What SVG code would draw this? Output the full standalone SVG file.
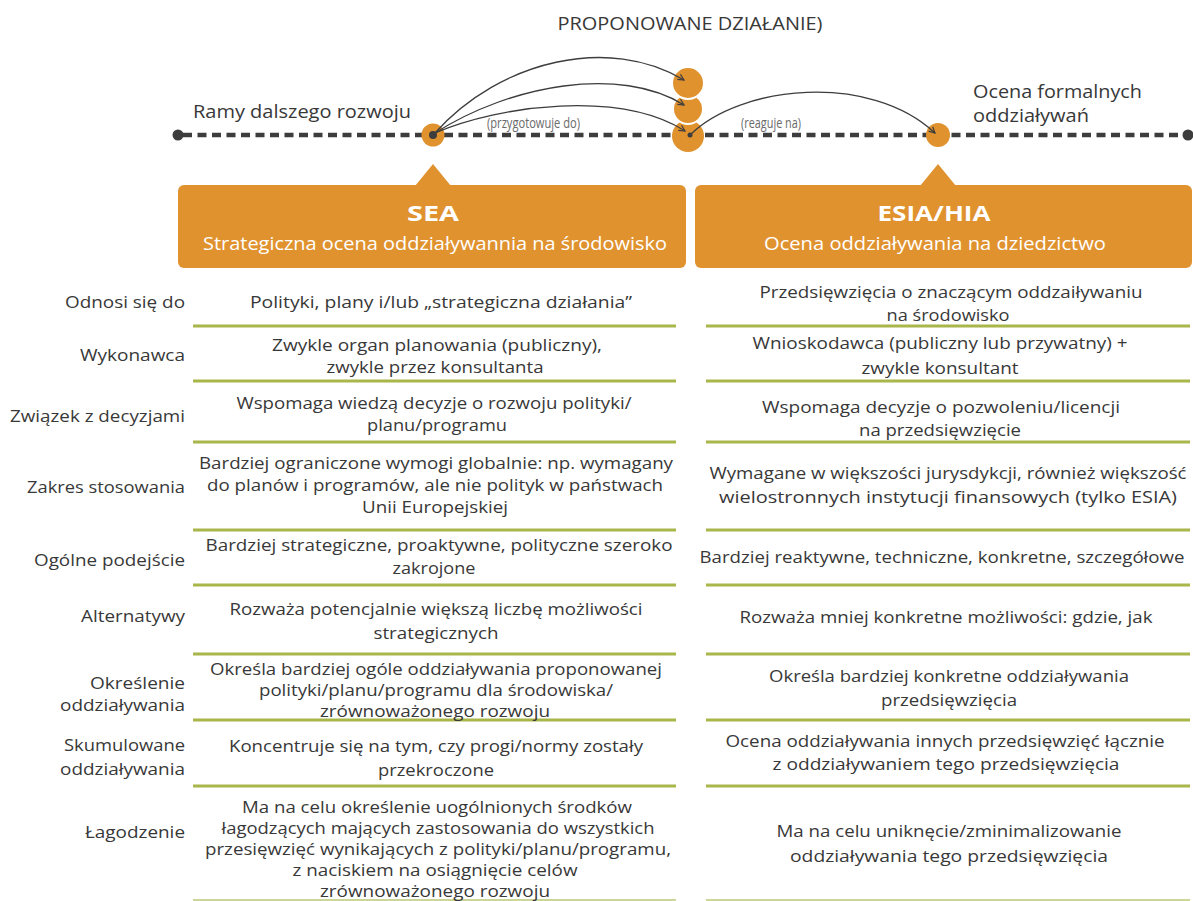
<svg xmlns="http://www.w3.org/2000/svg" width="1193" height="901" viewBox="0 0 1193 901">
<defs>
<style>
text{font-family:"Open Sans","Liberation Sans",sans-serif;fill:#383838}
.t{font-size:17px}
.c{text-anchor:middle}
.e{text-anchor:end}
.top{font-size:19px}
.small{font-size:14px;fill:#6a6a6a}
.hb{font-size:21px;font-weight:700;fill:#fff;text-anchor:middle}
.hs{font-size:17.5px;fill:#fff;text-anchor:middle}
.box{fill:#e0922f}
.orange{fill:#e0922f}
.sep{stroke:#a8b64a;stroke-width:3}
.sepl{stroke:#cdd699;stroke-width:2}
.arc{fill:none;stroke:#3d3d3d;stroke-width:1.3;marker-end:url(#ah)}
</style>
<marker id="ah" viewBox="0 0 8 8" refX="7" refY="4" markerWidth="8" markerHeight="8" markerUnits="userSpaceOnUse" orient="auto">
<path d="M1,1 L7,4 L1,7" fill="none" stroke="#3d3d3d" stroke-width="1.2"/>
</marker>
</defs>
<rect width="1193" height="901" fill="#fff"/>

<g id="timeline">
<line x1="183" y1="135" x2="1183" y2="135" stroke="#3d3d3d" stroke-width="4.5" stroke-dasharray="9 5.5"/>
<circle cx="178" cy="135" r="5.5" fill="#3d3d3d"/>
<circle cx="1188" cy="135" r="5.5" fill="#3d3d3d"/>
</g>

<text class="top c" x="690" y="30" textLength="265" lengthAdjust="spacingAndGlyphs">PROPONOWANE DZIAŁANIE)</text>
<text class="top" x="193" y="118" textLength="218" lengthAdjust="spacingAndGlyphs">Ramy dalszego rozwoju</text>
<text class="top" x="973" y="98" textLength="169" lengthAdjust="spacingAndGlyphs">Ocena formalnych</text>
<text class="top" x="973" y="122" textLength="116" lengthAdjust="spacingAndGlyphs">oddziaływań</text>

<g id="node-sea-point">
<circle class="orange" cx="433" cy="135" r="11.5"/>
<circle cx="433" cy="135" r="4" fill="#3d3d3d"/>
</g>
<g id="node-proposed">
<circle class="orange" cx="688" cy="136" r="16"/>
<circle class="orange" cx="688" cy="109" r="15" stroke="#fff" stroke-width="2"/>
<circle class="orange" cx="688" cy="83" r="16" stroke="#fff" stroke-width="2"/>
<circle cx="690" cy="135" r="2.5" fill="#3d3d3d"/>
</g>
<g id="node-esia-point">
<circle class="orange" cx="938" cy="135" r="12"/>
</g>

<g id="connectors">
<path class="arc" d="M435,133 C500,60 610,35 684,80"/>
<path class="arc" d="M435,133 C510,85 620,65 684,105"/>
<path class="arc" d="M435,133 C500,105 620,90 685,131"/>
<path class="arc" d="M690,135 C740,85 870,72 935,133"/>
</g>
<text class="small" x="487" y="128" textLength="93" lengthAdjust="spacingAndGlyphs">(przygotowuje do)</text>
<text class="small" x="741" y="128" textLength="60" lengthAdjust="spacingAndGlyphs">(reaguje na)</text>

<g id="node-sea">
<polygon class="box" points="415,186 433,164 451,186"/>
<rect class="box" x="178" y="185" width="508" height="83" rx="6"/>
<text class="hb" x="433" y="221" textLength="52" lengthAdjust="spacingAndGlyphs">SEA</text>
<text class="hs" x="435" y="250" textLength="464" lengthAdjust="spacingAndGlyphs">Strategiczna ocena oddziaływannia na środowisko</text>
</g>
<g id="node-esia">
<polygon class="box" points="920,186 938,164 956,186"/>
<rect class="box" x="695" y="185" width="497" height="83" rx="6"/>
<text class="hb" x="934" y="221" textLength="113" lengthAdjust="spacingAndGlyphs">ESIA/HIA</text>
<text class="hs" x="935" y="250" textLength="342" lengthAdjust="spacingAndGlyphs">Ocena oddziaływania na dziedzictwo</text>
</g>

<g id="separators">
<line class="sep" x1="193" y1="326" x2="676" y2="326"/><line class="sep" x1="706" y1="326" x2="1190" y2="326"/>
<line class="sep" x1="193" y1="381" x2="676" y2="381"/><line class="sep" x1="706" y1="381" x2="1190" y2="381"/>
<line class="sep" x1="193" y1="442" x2="676" y2="442"/><line class="sep" x1="706" y1="442" x2="1190" y2="442"/>
<line class="sep" x1="193" y1="530" x2="676" y2="530"/><line class="sep" x1="706" y1="530" x2="1190" y2="530"/>
<line class="sep" x1="193" y1="585" x2="676" y2="585"/><line class="sep" x1="706" y1="585" x2="1190" y2="585"/>
<line class="sep" x1="193" y1="654" x2="676" y2="654"/><line class="sep" x1="706" y1="654" x2="1190" y2="654"/>
<line class="sep" x1="193" y1="720" x2="676" y2="720"/><line class="sep" x1="706" y1="720" x2="1190" y2="720"/>
<line class="sep" x1="193" y1="786" x2="676" y2="786"/><line class="sep" x1="706" y1="786" x2="1190" y2="786"/>
<line class="sepl" x1="193" y1="900" x2="676" y2="900"/><line class="sepl" x1="706" y1="900" x2="1190" y2="900"/>
</g>

<g id="labels">
<text class="t e" x="185" y="308" textLength="120" lengthAdjust="spacingAndGlyphs">Odnosi się do</text>
<text class="t e" x="185" y="361" textLength="105" lengthAdjust="spacingAndGlyphs">Wykonawca</text>
<text class="t e" x="185" y="422" textLength="175" lengthAdjust="spacingAndGlyphs">Związek z decyzjami</text>
<text class="t e" x="185" y="493" textLength="158" lengthAdjust="spacingAndGlyphs">Zakres stosowania</text>
<text class="t e" x="185" y="566" textLength="151" lengthAdjust="spacingAndGlyphs">Ogólne podejście</text>
<text class="t e" x="185" y="622" textLength="104" lengthAdjust="spacingAndGlyphs">Alternatywy</text>
<text class="t e" x="185" y="689" textLength="95" lengthAdjust="spacingAndGlyphs">Określenie</text>
<text class="t e" x="185" y="711" textLength="125" lengthAdjust="spacingAndGlyphs">oddziaływania</text>
<text class="t e" x="185" y="751" textLength="121" lengthAdjust="spacingAndGlyphs">Skumulowane</text>
<text class="t e" x="185" y="775" textLength="125" lengthAdjust="spacingAndGlyphs">oddziaływania</text>
<text class="t e" x="185" y="838" textLength="100" lengthAdjust="spacingAndGlyphs">Łagodzenie</text>
</g>

<g id="sea-column">
<text class="t c" x="441" y="308" textLength="382" lengthAdjust="spacingAndGlyphs">Polityki, plany i/lub „strategiczna działania”</text>
<text class="t c" x="437" y="351" textLength="330" lengthAdjust="spacingAndGlyphs">Zwykle organ planowania (publiczny),</text>
<text class="t c" x="435" y="373" textLength="217" lengthAdjust="spacingAndGlyphs">zwykle przez konsultanta</text>
<text class="t c" x="434" y="409" textLength="395" lengthAdjust="spacingAndGlyphs">Wspomaga wiedzą decyzje o rozwoju polityki/</text>
<text class="t c" x="437" y="431" textLength="140" lengthAdjust="spacingAndGlyphs">planu/programu</text>
<text class="t c" x="436" y="469" textLength="474" lengthAdjust="spacingAndGlyphs">Bardziej ograniczone wymogi globalnie: np. wymagany</text>
<text class="t c" x="435" y="491" textLength="456" lengthAdjust="spacingAndGlyphs">do planów i programów, ale nie polityk w państwach</text>
<text class="t c" x="435" y="513" textLength="146" lengthAdjust="spacingAndGlyphs">Unii Europejskiej</text>
<text class="t c" x="439" y="551" textLength="467" lengthAdjust="spacingAndGlyphs">Bardziej strategiczne, proaktywne, polityczne szeroko</text>
<text class="t c" x="434" y="574" textLength="83" lengthAdjust="spacingAndGlyphs">zakrojone</text>
<text class="t c" x="436" y="615" textLength="413" lengthAdjust="spacingAndGlyphs">Rozważa potencjalnie większą liczbę możliwości</text>
<text class="t c" x="436" y="639" textLength="125" lengthAdjust="spacingAndGlyphs">strategicznych</text>
<text class="t c" x="436" y="675" textLength="452" lengthAdjust="spacingAndGlyphs">Określa bardziej ogóle oddziaływania proponowanej</text>
<text class="t c" x="436" y="696" textLength="354" lengthAdjust="spacingAndGlyphs">polityki/planu/programu dla środowiska/</text>
<text class="t c" x="435" y="717" textLength="230" lengthAdjust="spacingAndGlyphs">zrównoważonego rozwoju</text>
<text class="t c" x="436" y="752" textLength="414" lengthAdjust="spacingAndGlyphs">Koncentruje się na tym, czy progi/normy zostały</text>
<text class="t c" x="436" y="776" textLength="116" lengthAdjust="spacingAndGlyphs">przekroczone</text>
<text class="t c" x="437" y="813" textLength="390" lengthAdjust="spacingAndGlyphs">Ma na celu określenie uogólnionych środków</text>
<text class="t c" x="438" y="834" textLength="433" lengthAdjust="spacingAndGlyphs">łagodzących mających zastosowania do wszystkich</text>
<text class="t c" x="438" y="855" textLength="466" lengthAdjust="spacingAndGlyphs">przesięwzięć wynikających z polityki/planu/programu,</text>
<text class="t c" x="435" y="876" textLength="285" lengthAdjust="spacingAndGlyphs">z naciskiem na osiągnięcie celów</text>
<text class="t c" x="435" y="897" textLength="230" lengthAdjust="spacingAndGlyphs">zrównoważonego rozwoju</text>
</g>

<g id="esia-column">
<text class="t c" x="951" y="298" textLength="383" lengthAdjust="spacingAndGlyphs">Przedsięwzięcia o znaczącym oddzaiływaniu</text>
<text class="t c" x="948" y="321" textLength="123" lengthAdjust="spacingAndGlyphs">na środowisko</text>
<text class="t c" x="940" y="349" textLength="375" lengthAdjust="spacingAndGlyphs">Wnioskodawca (publiczny lub przywatny) +</text>
<text class="t c" x="940" y="374" textLength="157" lengthAdjust="spacingAndGlyphs">zwykle konsultant</text>
<text class="t c" x="941" y="413" textLength="358" lengthAdjust="spacingAndGlyphs">Wspomaga decyzje o pozwoleniu/licencji</text>
<text class="t c" x="940" y="436" textLength="162" lengthAdjust="spacingAndGlyphs">na przedsięwzięcie</text>
<text class="t c" x="948" y="479" textLength="477" lengthAdjust="spacingAndGlyphs">Wymagane w większości jurysdykcji, również większość</text>
<text class="t c" x="948" y="503" textLength="458" lengthAdjust="spacingAndGlyphs">wielostronnych instytucji finansowych (tylko ESIA)</text>
<text class="t c" x="942" y="563" textLength="485" lengthAdjust="spacingAndGlyphs">Bardziej reaktywne, techniczne, konkretne, szczegółowe</text>
<text class="t c" x="946" y="623" textLength="413" lengthAdjust="spacingAndGlyphs">Rozważa mniej konkretne możliwości: gdzie, jak</text>
<text class="t c" x="949" y="682" textLength="360" lengthAdjust="spacingAndGlyphs">Określa bardziej konkretne oddziaływania</text>
<text class="t c" x="949" y="706" textLength="136" lengthAdjust="spacingAndGlyphs">przedsięwzięcia</text>
<text class="t c" x="945" y="747" textLength="439" lengthAdjust="spacingAndGlyphs">Ocena oddziaływania innych przedsięwzięć łącznie</text>
<text class="t c" x="946" y="770" textLength="347" lengthAdjust="spacingAndGlyphs">z oddziaływaniem tego przedsięwzięcia</text>
<text class="t c" x="949" y="837" textLength="345" lengthAdjust="spacingAndGlyphs">Ma na celu uniknęcie/zminimalizowanie</text>
<text class="t c" x="949" y="862" textLength="318" lengthAdjust="spacingAndGlyphs">oddziaływania tego przedsięwzięcia</text>
</g>
</svg>
